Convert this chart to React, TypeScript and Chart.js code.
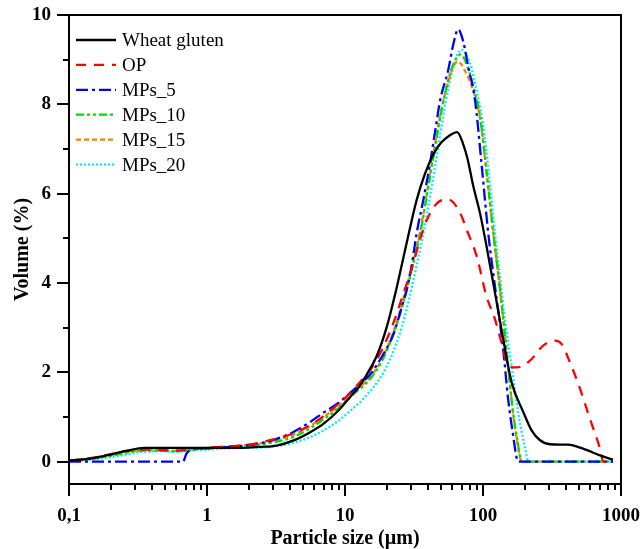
import React, { useEffect, useRef } from 'react';
import { Chart, registerables } from 'chart.js';

Chart.register(...registerables);

const FONT = "'Liberation Serif', 'Times New Roman', serif";

// ---- Axis ticks ----
const xTickValues = [0.1, 1, 10, 100, 1000];
const xTickLabels = ['0,1', '1', '10', '100', '1000'];
const yTickValues = [0, 2, 4, 6, 8, 10];
const yTickLabels = ['0', '2', '4', '6', '8', '10'];
const yMinorTicks = [1, 3, 5, 7, 9];

// ---- Series names ----
const seriesNames = ['Wheat gluten', 'OP', 'MPs_5', 'MPs_10', 'MPs_15', 'MPs_20'];

// ---- Wheat gluten ----
const wheatX = [0.1, 0.15, 0.2, 0.26, 0.35, 0.5, 1, 1.8, 2.4, 3.2, 4.2, 5.6, 7, 9, 10.9, 12.8, 15, 17, 20, 23.7, 28, 33, 38, 44, 50, 56, 65, 72, 77, 85, 95, 106, 122, 140, 161, 196, 225, 259, 306, 413, 531, 705, 875];
const wheatY = [0.02, 0.08, 0.16, 0.24, 0.31, 0.31, 0.31, 0.31, 0.33, 0.36, 0.47, 0.66, 0.85, 1.15, 1.45, 1.7, 2.05, 2.37, 3.0, 3.9, 4.9, 5.85, 6.45, 6.9, 7.15, 7.28, 7.38, 7.1, 6.8, 6.17, 5.57, 4.83, 3.79, 2.75, 1.78, 1.11, 0.7, 0.48, 0.39, 0.38, 0.29, 0.14, 0.04];

// ---- OP ----
const opX = [0.1, 0.15, 0.2, 0.26, 0.35, 0.46, 0.6, 0.8, 1, 1.4, 2, 2.86, 4.2, 5.6, 7, 9, 11, 13, 15.2, 18.5, 22.4, 26.4, 31, 35, 39, 47, 56, 68, 76, 90, 106, 122, 136, 152, 175, 219, 273, 333, 372, 427, 505, 595, 705, 745, 875];
const opY = [0.02, 0.09, 0.17, 0.24, 0.27, 0.26, 0.25, 0.28, 0.31, 0.34, 0.38, 0.48, 0.63, 0.82, 1.02, 1.3, 1.55, 1.8, 2.05, 2.5, 3.1, 3.75, 4.4, 4.98, 5.4, 5.8, 5.87, 5.58, 5.2, 4.6, 3.7, 3.19, 2.67, 2.15, 2.11, 2.26, 2.6, 2.71, 2.63, 2.22, 1.63, 0.96, 0.29, 0, 0];

// ---- MPs_5 ----
const mp5X = [0.1, 0.3, 0.67, 0.71, 0.79, 1, 1.5, 2, 2.5, 3.2, 4.2, 5.6, 7, 9, 11, 13, 15.2, 18.5, 22.4, 26, 28, 30.4, 33, 37, 41, 45, 49, 56, 61, 66, 72, 78, 87.5, 98, 109, 122, 140, 152, 164, 180, 875];
const mp5Y = [0, 0, 0, 0.18, 0.27, 0.3, 0.33, 0.37, 0.42, 0.51, 0.66, 0.89, 1.1, 1.32, 1.55, 1.75, 1.95, 2.35, 2.85, 3.5, 3.85, 4.38, 5.1, 5.87, 6.61, 7.4, 8.1, 8.77, 9.35, 9.68, 9.4, 8.85, 8.1, 6.61, 5.13, 3.93, 2.52, 1.41, 0.66, 0, 0];

// ---- MPs_10 ----
const mp10X = [0.1, 0.15, 0.2, 0.26, 0.35, 0.46, 0.6, 0.79, 1, 1.4, 2, 2.86, 4.2, 5.6, 7, 9, 11.4, 15.2, 18.5, 22.4, 26.4, 31, 35, 42.5, 50, 56, 62, 69, 76, 85, 95, 106, 119, 133, 152, 164, 178, 191, 875];
const mp10Y = [0.02, 0.07, 0.13, 0.2, 0.25, 0.25, 0.23, 0.27, 0.3, 0.33, 0.36, 0.42, 0.55, 0.75, 0.95, 1.2, 1.5, 1.85, 2.25, 2.85, 3.55, 4.4, 5.1, 6.6, 7.85, 8.55, 8.95, 9.12, 8.9, 8.4, 7.75, 6.5, 5.1, 3.85, 2.15, 1.18, 0.44, 0, 0];

// ---- MPs_15 ----
const mp15X = [0.1, 0.15, 0.2, 0.26, 0.35, 0.46, 0.6, 0.79, 1, 1.4, 2, 2.86, 4.2, 5.6, 7, 9, 11.4, 15.2, 18.5, 22.4, 26.4, 31, 35, 42.5, 50, 56, 61, 66, 74, 85, 95, 106, 119, 133, 152, 164, 178, 191, 875];
const mp15Y = [0.02, 0.08, 0.14, 0.21, 0.26, 0.26, 0.24, 0.28, 0.31, 0.34, 0.38, 0.45, 0.6, 0.8, 1.0, 1.25, 1.56, 1.88, 2.3, 2.9, 3.64, 4.46, 5.15, 6.65, 7.9, 8.5, 8.85, 8.96, 8.75, 8.3, 7.7, 6.5, 5.1, 3.85, 2.15, 1.15, 0.4, 0, 0];

// ---- MPs_20 ----
const mp20X = [0.1, 0.15, 0.2, 0.26, 0.35, 0.46, 0.6, 0.79, 1, 1.5, 2, 2.86, 4.2, 5.6, 7, 9, 11, 13.6, 19, 23.7, 28, 33, 38, 45, 54, 60, 65, 70, 80, 90, 100, 110, 122, 133, 144, 161, 178, 200, 214, 875];
const mp20Y = [0.01, 0.05, 0.1, 0.16, 0.22, 0.23, 0.22, 0.25, 0.27, 0.3, 0.31, 0.33, 0.42, 0.55, 0.7, 0.92, 1.15, 1.41, 2.0, 2.67, 3.42, 4.38, 5.3, 6.61, 8.1, 8.75, 9.1, 9.22, 8.95, 8.3, 7.55, 6.5, 5.13, 4.1, 3.19, 2.15, 1.18, 0.36, 0, 0];

const seriesX = [wheatX, opX, mp5X, mp10X, mp15X, mp20X];
const seriesY = [wheatY, opY, mp5Y, mp10Y, mp15Y, mp20Y];
const seriesColors = ['#000000', '#ff0000', '#0000ff', '#00dd00', '#ff8000', '#00eeff'];
const seriesDash = [[], [10, 8], [12, 4, 3, 4], [8, 3, 3, 3, 3, 3], [5, 3], [2, 2]];

const framePlugin = {
  id: 'frameTicks',
  afterDraw(chart: any) {
    const { ctx, chartArea: a, scales } = chart;
    const xs = scales.x;
    const ys = scales.y;
    ctx.save();
    ctx.strokeStyle = '#000';
    ctx.lineWidth = 2;
    ctx.setLineDash([]);
    ctx.strokeRect(a.left, a.top, a.right - a.left, a.bottom - a.top);
    ctx.beginPath();
    for (let e = -1; e <= 3; e++) {
      for (let m = 1; m <= 9; m++) {
        const v = m * Math.pow(10, e);
        if (v > 1000.0001) continue;
        const px = Math.round(xs.getPixelForValue(v));
        const len = m === 1 ? 12 : 6;
        ctx.moveTo(px, a.bottom);
        ctx.lineTo(px, a.bottom + len);
      }
    }
    yTickValues.forEach((v) => {
      const py = Math.round(ys.getPixelForValue(v));
      ctx.moveTo(a.left, py);
      ctx.lineTo(a.left - 12, py);
    });
    yMinorTicks.forEach((v) => {
      const py = Math.round(ys.getPixelForValue(v));
      ctx.moveTo(a.left, py);
      ctx.lineTo(a.left - 6, py);
    });
    ctx.stroke();
    ctx.restore();
  },
};

const legendPlugin = {
  id: 'innerLegend',
  afterDatasetsDraw(chart: any) {
    const { ctx, chartArea: a } = chart;
    chart.data.datasets.forEach((ds: any, i: number) => {
      const y = a.top + 25 + i * 24.9;
      ctx.save();
      ctx.strokeStyle = ds.borderColor;
      ctx.lineWidth = ds.borderWidth;
      ctx.setLineDash(ds.borderDash || []);
      ctx.beginPath();
      ctx.moveTo(a.left + 7, y);
      ctx.lineTo(a.left + 47, y);
      ctx.stroke();
      ctx.setLineDash([]);
      ctx.fillStyle = '#000';
      ctx.font = `19px ${FONT}`;
      ctx.textBaseline = 'alphabetic';
      ctx.textAlign = 'left';
      ctx.fillText(ds.label, a.left + 53, y + 6.3);
      ctx.restore();
    });
  },
};

export default function App() {
  const ref = useRef<HTMLCanvasElement | null>(null);

  useEffect(() => {
    if (!ref.current) return;
    const datasets = seriesNames.map((name, i) => ({
      label: name,
      data: seriesX[i].map((x, j) => ({ x, y: seriesY[i][j] })),
      borderColor: seriesColors[i],
      backgroundColor: seriesColors[i],
      borderWidth: 2.3,
      borderDash: seriesDash[i],
      pointRadius: 0,
      fill: false,
      cubicInterpolationMode: 'monotone' as const,
    }));

    const chart = new Chart(ref.current, {
      type: 'line',
      data: { datasets },
      options: {
        animation: false,
        responsive: false,
        maintainAspectRatio: false,
        layout: { padding: { left: 0, right: 20, top: 15, bottom: 0 } },
        plugins: {
          legend: { display: false },
          tooltip: { enabled: false },
        },
        scales: {
          x: {
            type: 'logarithmic',
            min: 0.1,
            max: 1000,
            grid: { display: false, drawTicks: true, tickLength: 21 },
            border: { display: false },
            afterBuildTicks: (scale: any) => {
              scale.ticks = xTickValues.map((v) => ({ value: v }));
            },
            afterFit: (scale: any) => {
              scale.height = 65;
              scale.paddingLeft = 0;
              scale.paddingRight = 0;
            },
            ticks: {
              autoSkip: false,
              maxRotation: 0,
              padding: 0,
              color: '#000',
              font: { family: FONT, size: 19, weight: 'bold' },
              callback: (v: any) => {
                const idx = xTickValues.findIndex((t) => Math.abs(t - Number(v)) < 1e-9);
                return idx >= 0 ? xTickLabels[idx] : '';
              },
            },
            title: {
              display: true,
              text: 'Particle size (µm)',
              color: '#000',
              font: { family: FONT, size: 20, weight: 'bold', lineHeight: 1.2 },
              padding: { top: 0, bottom: -2 },
            },
          },
          y: {
            type: 'linear',
            min: -0.5,
            max: 10,
            grid: { display: false, drawTicks: false },
            border: { display: false },
            afterBuildTicks: (scale: any) => {
              scale.ticks = yTickValues.map((v) => ({ value: v }));
            },
            afterFit: (scale: any) => {
              scale.width = 69;
              scale.paddingTop = 0;
              scale.paddingBottom = 0;
            },
            ticks: {
              autoSkip: false,
              padding: 18,
              color: '#000',
              font: { family: FONT, size: 19, weight: 'bold' },
              callback: (v: any) => {
                const idx = yTickValues.findIndex((t) => Math.abs(t - Number(v)) < 1e-9);
                return idx >= 0 ? yTickLabels[idx] : '';
              },
            },
            title: {
              display: true,
              text: 'Volume (%)',
              color: '#000',
              font: { family: FONT, size: 20, weight: 'bold', lineHeight: 1.2 },
              padding: { top: 11, bottom: 0 },
            },
          },
        },
      },
      plugins: [framePlugin, legendPlugin],
    });

    return () => chart.destroy();
  }, []);

  return (
    <div style={{ position: 'absolute', left: 0, top: 0, width: 641, height: 549, background: '#fff' }}>
      <canvas ref={ref} width={641} height={549} style={{ display: 'block' }} />
    </div>
  );
}
